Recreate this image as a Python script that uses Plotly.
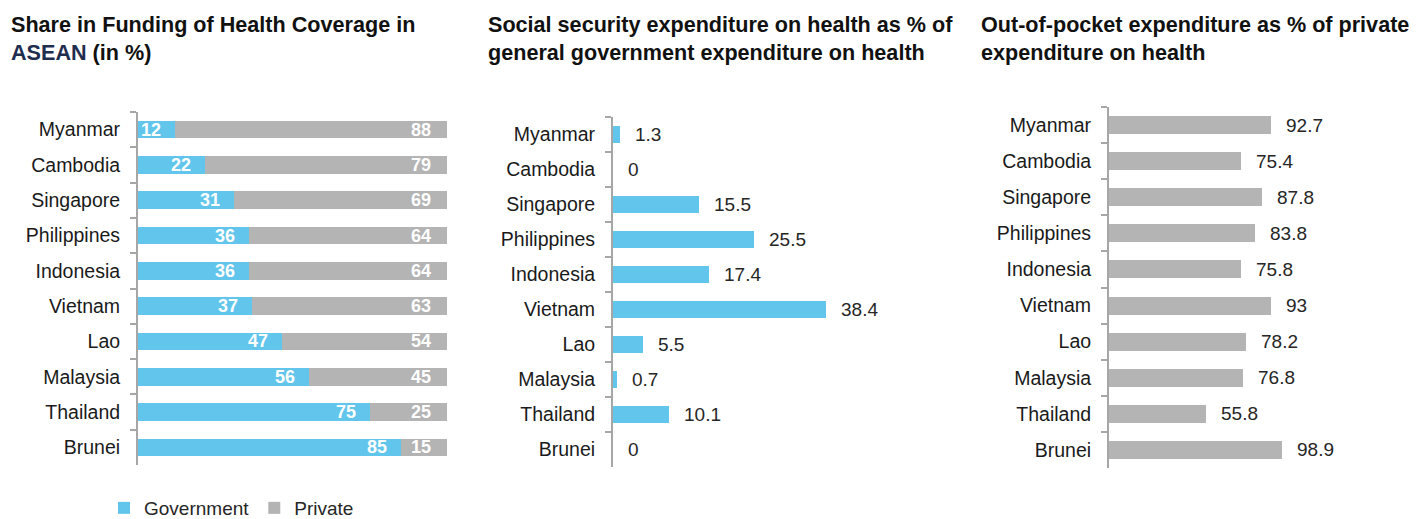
import plotly.graph_objects as go

countries = ["Myanmar", "Cambodia", "Singapore", "Philippines", "Indonesia",
             "Vietnam", "Lao", "Malaysia", "Thailand", "Brunei"]
gov_share = [12, 22, 31, 36, 36, 37, 47, 56, 75, 85]
priv_share = [88, 79, 69, 64, 64, 63, 54, 45, 25, 15]
social_sec = [1.3, 0, 15.5, 25.5, 17.4, 38.4, 5.5, 0.7, 10.1, 0]
out_of_pocket = [92.7, 75.4, 87.8, 83.8, 75.8, 93, 78.2, 76.8, 55.8, 98.9]

BLUE = "#62C5EB"
GRAY = "#B4B4B4"
AXIS = "#A6A6A6"
FONT = "Liberation Sans, Arial, sans-serif"
W, H = 1416, 519

def px_x(a, b):
    return [a / W, b / W]

def px_y(top, bottom):
    return [1 - bottom / H, 1 - top / H]

# normalise shares to 100 (some rows sum to 101)
tot = [g + p for g, p in zip(gov_share, priv_share)]
gov_n = [g / t * 100 for g, t in zip(gov_share, tot)]
priv_n = [p / t * 100 for p, t in zip(priv_share, tot)]

fig = go.Figure()
fig.add_trace(go.Bar(y=countries, x=gov_n, orientation="h", name="Government",
                     marker=dict(color=BLUE, line=dict(width=0)), width=0.5,
                     xaxis="x", yaxis="y", hoverinfo="skip"))
fig.add_trace(go.Bar(y=countries, x=priv_n, orientation="h", name="Private",
                     marker=dict(color=GRAY, line=dict(width=0)), width=0.5,
                     xaxis="x", yaxis="y", hoverinfo="skip"))
fig.add_trace(go.Bar(y=countries, x=social_sec, orientation="h", showlegend=False,
                     marker=dict(color=BLUE, line=dict(width=0)), width=0.5,
                     xaxis="x2", yaxis="y2", hoverinfo="skip"))
fig.add_trace(go.Bar(y=countries, x=out_of_pocket, orientation="h", showlegend=False,
                     marker=dict(color=GRAY, line=dict(width=0)), width=0.5,
                     xaxis="x3", yaxis="y3", hoverinfo="skip"))

annotations = []
for c, g, gn, p in zip(countries, gov_share, gov_n, priv_share):
    annotations.append(dict(x=gn, y=c, xref="x", yref="y", text=f"<b>{g}</b>",
                            xanchor="right", yanchor="middle", xshift=-12, showarrow=False,
                            font=dict(family=FONT, size=18, color="white")))
    annotations.append(dict(x=100, y=c, xref="x", yref="y", text=f"<b>{p}</b>",
                            xanchor="right", yanchor="middle", xshift=-14, showarrow=False,
                            font=dict(family=FONT, size=18, color="white")))
for c, v in zip(countries, social_sec):
    annotations.append(dict(x=v, y=c, xref="x2", yref="y2", text=f"{v:g}",
                            xanchor="left", yanchor="middle", xshift=13, showarrow=False,
                            font=dict(family=FONT, size=19, color="#262626")))
for c, v in zip(countries, out_of_pocket):
    annotations.append(dict(x=v, y=c, xref="x3", yref="y3", text=f"{v:g}",
                            xanchor="left", yanchor="middle", xshift=13, showarrow=False,
                            font=dict(family=FONT, size=19, color="#262626")))

titles = [
    (9, "<b>Share in Funding of Health Coverage in<br><span style='color:#1F2D4E'>ASEAN</span> (in %)</b>"),
    (486, "<b>Social security expenditure on health as % of<br>general government expenditure on health</b>"),
    (979, "<b>Out-of-pocket expenditure as % of private<br>expenditure on health</b>"),
]
for xpx, t in titles:
    annotations.append(dict(x=xpx / W, y=1 - 10 / H, xref="paper", yref="paper", text=t,
                            xanchor="left", yanchor="top", align="left", showarrow=False,
                            font=dict(family=FONT, size=21.6, color="#111111")))

def yax(domain):
    return dict(domain=domain, type="category", categoryorder="array",
                categoryarray=countries, range=[9.5, -0.5], autorange=False,
                showline=True, linecolor=AXIS, linewidth=2, ticks="outside",
                tickson="boundaries", ticklen=6, tickcolor=AXIS, tickwidth=1.5,
                ticklabelstandoff=12, showgrid=False, zeroline=False,
                tickfont=dict(family=FONT, size=19.5, color="#1A1A1A"))

def xax(domain, rng, anchor):
    return dict(domain=domain, range=rng, visible=False, showgrid=False,
                zeroline=False, anchor=anchor)

fig.update_layout(
    width=W, height=H,
    margin=dict(l=0, r=0, t=0, b=0, autoexpand=False),
    paper_bgcolor="white", plot_bgcolor="white",
    barmode="stack", bargap=0.5,
    font=dict(family=FONT, color="#1A1A1A"),
    xaxis=xax(px_x(138, 447), [0, 100], "y"),
    yaxis=yax(px_y(112, 465)) | dict(anchor="x"),
    xaxis2=xax(px_x(613, 900), [0, 287 / 5.54], "y2"),
    yaxis2=yax(px_y(117, 467)) | dict(anchor="x2"),
    xaxis3=xax(px_x(1109, 1400), [0, 291 / 1.746], "y3"),
    yaxis3=yax(px_y(107, 468)) | dict(anchor="x3"),
    showlegend=True,
    legend=dict(orientation="h", x=104 / W, y=1 - 508 / H, xanchor="left", yanchor="middle",
                xref="container", yref="container",
                font=dict(family=FONT, size=19, color="#262626"), itemwidth=30,
                bgcolor="rgba(0,0,0,0)", traceorder="normal"),
    annotations=annotations,
)

fig.write_html("out.html", config={"displayModeBar": False},
               post_script="document.body.style.margin='0';document.body.style.overflow='hidden';")
